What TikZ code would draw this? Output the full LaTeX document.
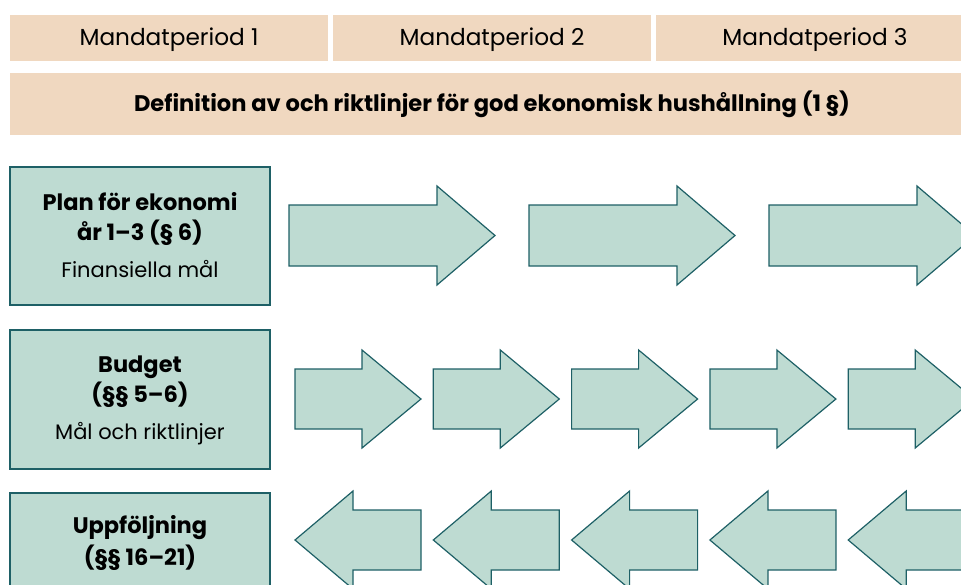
\documentclass[tikz,border=0pt]{standalone}
\usepackage{fontspec}
\setmainfont{Poppins}
\usetikzlibrary{positioning}
\definecolor{peach}{RGB}{240,216,192}
\definecolor{mint}{RGB}{190,219,210}
\definecolor{teal}{RGB}{30,96,102}

\begin{document}
\begin{tikzpicture}[x=1pt,y=-1pt,
    hdr/.style={fill=peach,inner sep=0pt},
    leftbox/.style={fill=mint,draw=teal,line width=1.2pt,minimum width=260pt,inner sep=0pt},
    boxtext/.style={anchor=base,inner sep=0pt,font=\fontsize{22.5}{26}\selectfont\bfseries},
    boxsub/.style={anchor=base,inner sep=0pt,font=\fontsize{21}{24}\selectfont},
    arrowshape/.style={fill=mint,draw=teal,line width=1.2pt,line join=miter}]
    \useasboundingbox (0,0) rectangle (961,584);
    \clip (0,0) rectangle (961,584);
    % header rows
    \node[hdr,minimum width=318pt,minimum height=46pt] (mp1) at (169,38) {};
    \node[hdr,minimum width=318pt,minimum height=46pt] (mp2) at (492,38) {};
    \node[hdr,minimum width=318pt,minimum height=46pt] (mp3) at (815,38) {};
    \foreach \n in {1,2,3}
        \node[anchor=base,inner sep=0pt,font=\fontsize{23.2}{26}\selectfont] (mp\n t) at ([yshift=-7.5pt]mp\n.center) {Mandatperiod \n};
    \node[hdr,minimum width=964pt,minimum height=62pt] (def) at (492,104) {};
    \node[anchor=base,inner sep=0pt,font=\fontsize{22.6}{26}\selectfont\bfseries] (deft) at ([yshift=-7pt]def.center) {Definition av och riktlinjer för god ekonomisk hushållning (1 §)};
    % left boxes
    \node[leftbox,minimum height=138pt] (plan) at (140,236) {};
    \node[boxtext] (plan1) at ([yshift=-44pt]plan.north) {Plan för ekonomi};
    \node[boxtext] (plan2) at ([yshift=-74pt]plan.north) {år 1–3 (§ 6)};
    \node[boxsub] (plan3) at ([yshift=-111pt]plan.north) {Finansiella mål};
    \node[leftbox,minimum height=139pt] (budget) at (140,399.5) {};
    \node[boxtext] (budget1) at ([yshift=-43pt]budget.north) {Budget};
    \node[boxtext] (budget2) at ([yshift=-73pt]budget.north) {(§§ 5–6)};
    \node[boxsub] (budget3) at ([yshift=-110pt]budget.north) {Mål och riktlinjer};
    \node[leftbox,minimum height=139pt] (uppf) at (140,562.5) {};
    \node[boxtext] (uppf1) at ([yshift=-41pt]uppf.north) {Uppföljning};
    \node[boxtext] (uppf2) at ([yshift=-73pt]uppf.north) {(§§ 16–21)};
    % arrows, plan
    \foreach \x in {289,529,769}
        \draw[arrowshape] (\x,205) -- (\x+148,205) -- (\x+148,186) -- (\x+206,235.5)
            -- (\x+148,285) -- (\x+148,266) -- (\x,266) -- cycle;
    % arrows, budget
    \foreach \i in {0,...,4}
        \draw[arrowshape] (295+138.3*\i,369) -- (362+138.3*\i,369) -- (362+138.3*\i,350)
            -- (421+138.3*\i,399) -- (362+138.3*\i,448) -- (362+138.3*\i,429) -- (295+138.3*\i,429) -- cycle;
    % arrows, uppfoljning
    \foreach \i in {0,...,4}
        \draw[arrowshape] (421+138.3*\i,510) -- (353+138.3*\i,510) -- (353+138.3*\i,491)
            -- (295+138.3*\i,540) -- (353+138.3*\i,589) -- (353+138.3*\i,570) -- (421+138.3*\i,570) -- cycle;
\end{tikzpicture}
\end{document}
